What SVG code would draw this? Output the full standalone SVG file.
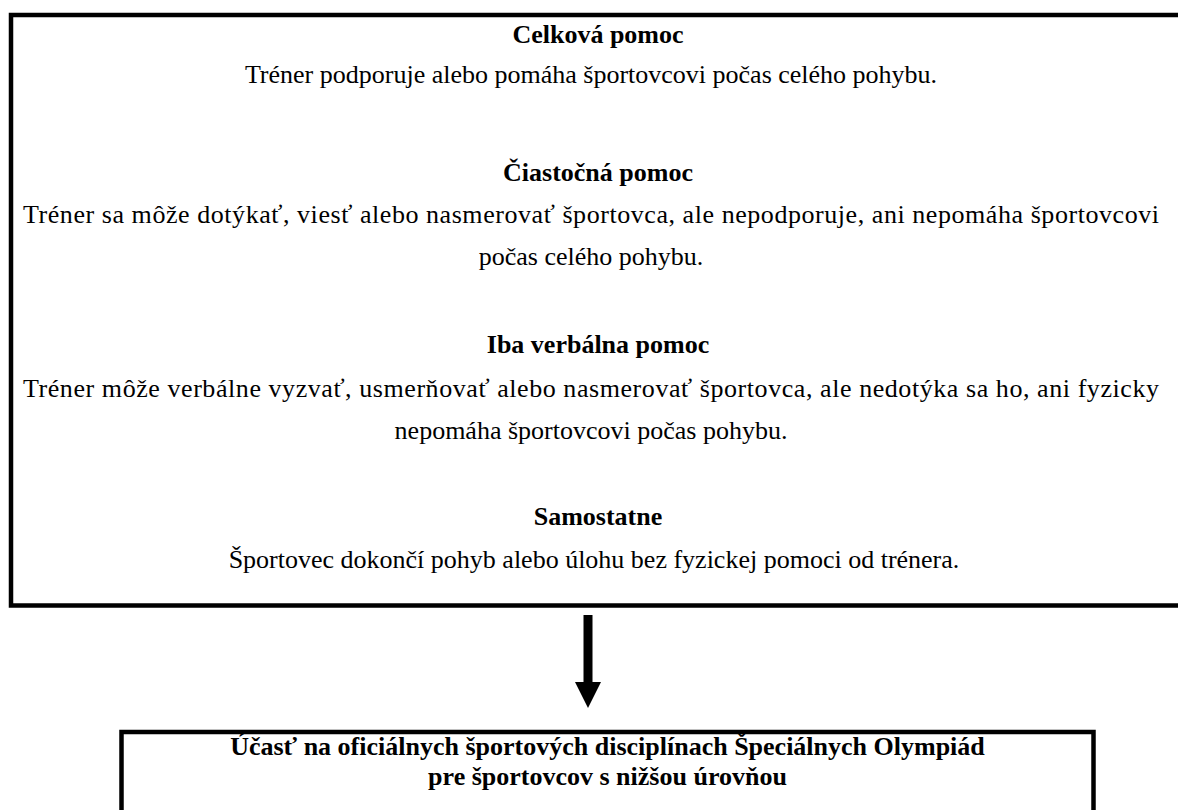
<svg xmlns="http://www.w3.org/2000/svg" width="1178" height="810" viewBox="0 0 1178 810">
<style>
.box{fill:none;stroke:#000;stroke-width:4.5}
.t{font-family:"Liberation Serif","Times New Roman",serif;font-size:26px;fill:#000;text-anchor:middle}
.b{font-weight:bold}
</style>
<rect width="1178" height="810" fill="#fff"/>
<g id="levels">
<rect class="box" x="11" y="15" width="1190" height="590.5"/>
<text class="t b" x="598" y="43">Celková pomoc</text>
<text class="t" x="591" y="83">Tréner podporuje alebo pomáha športovcovi počas celého pohybu.</text>
<text class="t b" x="598" y="181">Čiastočná pomoc</text>
<text class="t" x="591" y="223" textLength="1136" lengthAdjust="spacing">Tréner sa môže dotýkať, viesť alebo nasmerovať športovca, ale nepodporuje, ani nepomáha športovcovi</text>
<text class="t" x="591" y="265">počas celého pohybu.</text>
<text class="t b" x="598" y="353">Iba verbálna pomoc</text>
<text class="t" x="591" y="397" textLength="1136" lengthAdjust="spacing">Tréner môže verbálne vyzvať, usmerňovať alebo nasmerovať športovca, ale nedotýka sa ho, ani fyzicky</text>
<text class="t" x="591" y="439">nepomáha športovcovi počas pohybu.</text>
<text class="t b" x="598" y="525">Samostatne</text>
<text class="t" x="594" y="568">Športovec dokončí pohyb alebo úlohu bez fyzickej pomoci od trénera.</text>
</g>
<g id="connectors">
<rect x="583.5" y="615" width="9" height="68" fill="#000"/>
<polygon points="575,682 601,682 588,708" fill="#000"/>
</g>
<g id="participation">
<rect class="box" x="121.5" y="732" width="972" height="100"/>
<text class="t b" x="607.5" y="755">Účasť na oficiálnych športových disciplínach Špeciálnych Olympiád</text>
<text class="t b" x="607.5" y="785">pre športovcov s nižšou úrovňou</text>
</g>
</svg>
